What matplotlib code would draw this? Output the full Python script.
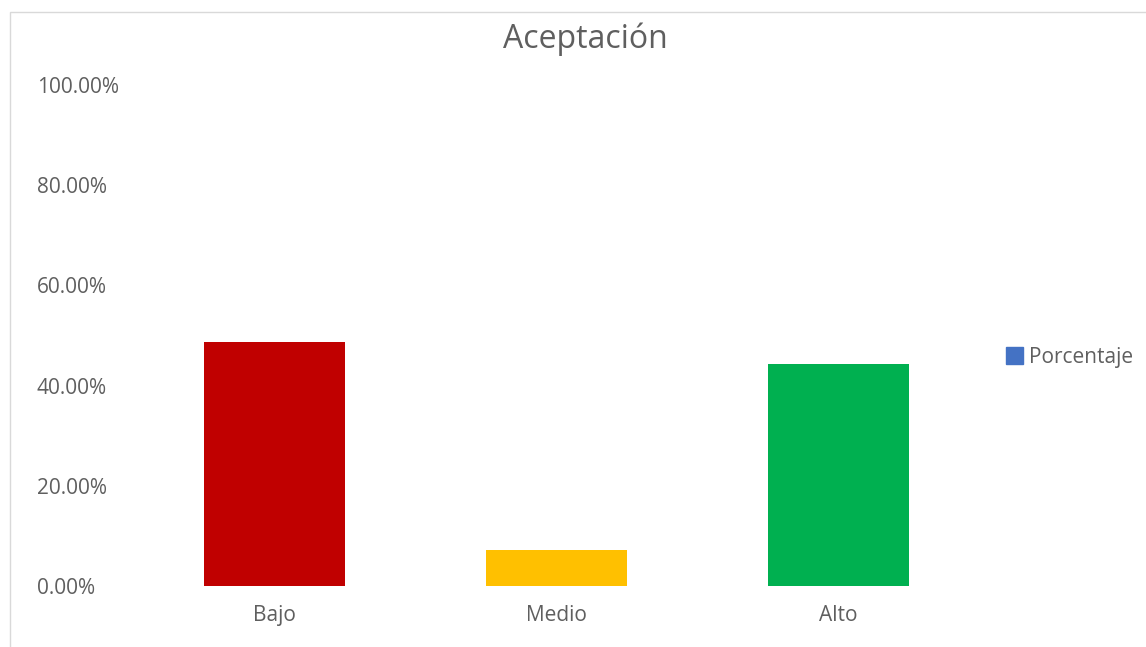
import matplotlib.pyplot as plt
from matplotlib.patches import Patch, Rectangle
from matplotlib.ticker import FuncFormatter

plt.rcParams['font.family'] = ['Open Sans', 'DejaVu Sans']

categories = ['Bajo', 'Medio', 'Alto']
values = [48.7, 7.2, 44.3]
colors = ['#C00000', '#FFC000', '#00B050']
legend_label = 'Porcentaje'
legend_color = '#4472C4'
yticks = [0, 20, 40, 60, 80, 100]

fig = plt.figure(figsize=(11.46, 6.47), dpi=100)
ax = fig.add_axes([133.5 / 1146, 61 / 647, 846 / 1146, 501 / 647])

ax.bar(range(len(categories)), values, width=0.5, color=colors)
ax.set_xlim(-0.5, len(categories) - 0.5)
ax.set_ylim(0, 100)
ax.set_yticks(yticks)
ax.yaxis.set_major_formatter(FuncFormatter(lambda v, p: '%.2f%%' % v))
ax.set_xticks(range(len(categories)))
ax.set_xticklabels(categories)

for s in ax.spines.values():
    s.set_visible(False)
ax.tick_params(axis='y', length=0, pad=69.5, labelsize=15, labelcolor='#5f5f5f')
ax.tick_params(axis='x', length=0, pad=14, labelsize=15, labelcolor='#5f5f5f')
for lbl in ax.get_yticklabels():
    lbl.set_horizontalalignment('left')

fig.text(585 / 1146, 1 - 39 / 647, 'Aceptación', ha='center', va='center',
         fontsize=23, color='#5f5f5f')

fig.legend(handles=[Patch(color=legend_color, label=legend_label)],
           loc='center left', bbox_to_anchor=(987 / 1146, 1 - 357 / 647),
           frameon=False, fontsize=15, handlelength=0.85, handleheight=0.85,
           handletextpad=0.25, labelcolor='#5f5f5f')

fig.patches.append(Rectangle((10 / 1146, -0.05), 1.2, 1 - 12 / 647 + 0.05,
                             transform=fig.transFigure, fill=False,
                             edgecolor='#D9D9D9', linewidth=1))

fig.savefig('out.png', dpi=100)
